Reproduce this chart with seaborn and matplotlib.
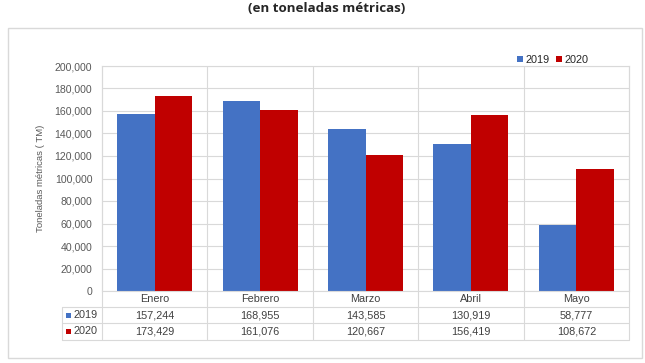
import pandas as pd
import seaborn as sns
import matplotlib.pyplot as plt
from matplotlib.lines import Line2D
from matplotlib.patches import Rectangle
from matplotlib.ticker import FuncFormatter

meses = ['Enero', 'Febrero', 'Marzo', 'Abril', 'Mayo']
anios = ['2019', '2020']
valores_2019 = [157244, 168955, 143585, 130919, 58777]
valores_2020 = [173429, 161076, 120667, 156419, 108672]

azul = '#4472C4'
rojo = '#C00000'
gris_linea = '#D9D9D9'
gris_texto = '#595959'

df = pd.DataFrame({
    'mes': meses * 2,
    'anio': [anios[0]] * len(meses) + [anios[1]] * len(meses),
    'toneladas': valores_2019 + valores_2020,
})

sns.set_style('white')
plt.rcParams['font.family'] = ['Liberation Sans', 'DejaVu Sans']

W, H = 645, 363
fig = plt.figure(figsize=(W / 100, H / 100), dpi=100)


def fx(px):
    return px / W


def fy(py):
    return 1 - py / H


ax = fig.add_axes([fx(102), fy(291), fx(629) - fx(102), fy(66) - fy(291)])

sns.barplot(data=df, x='mes', y='toneladas', hue='anio', order=meses,
            hue_order=anios, palette=[azul, rojo], width=0.71,
            saturation=1, linewidth=0, edgecolor='none', ax=ax, legend=True)

ax.set_ylim(0, 200000)
ax.set_xlim(-0.5, len(meses) - 0.5)
ax.set_yticks(range(0, 200001, 20000))
ax.yaxis.set_major_formatter(FuncFormatter(lambda v, p: f'{int(v):,}'))
ax.tick_params(axis='y', length=0, pad=7, labelsize=7.6, labelcolor=gris_texto)
ax.set_xticks([])
ax.set_xlabel('')
ax.set_ylabel('Toneladas métricas ( TM)', fontsize=6.8, color=gris_texto)
ax.yaxis.set_label_coords(-0.108, 0.5)
ax.grid(axis='y', color=gris_linea, linewidth=0.8)
ax.set_axisbelow(True)
for s in ax.spines.values():
    s.set_color(gris_linea)
    s.set_linewidth(0.8)

# leyenda superior
handles, labels = ax.get_legend_handles_labels()
ax.legend(handles, labels, loc='center right', bbox_to_anchor=(fx(593), fy(60)),
          bbox_transform=fig.transFigure, ncol=2, frameon=False, fontsize=7.8,
          handlelength=0.55, handleheight=0.55, handletextpad=0.25,
          columnspacing=0.6, borderaxespad=0)

# tabla de datos
filas_y = [291, 307, 323, 340]
x0_tabla = 62
for py in filas_y[1:]:
    fig.add_artist(Line2D([fx(x0_tabla), fx(629)], [fy(py), fy(py)],
                          color=gris_linea, linewidth=0.8))
fig.add_artist(Line2D([fx(x0_tabla), fx(x0_tabla)], [fy(307), fy(340)],
                      color=gris_linea, linewidth=0.8))
for i in range(len(meses) + 1):
    xb = i - 0.5
    xpix = ax.transData.transform((xb, 0))[0]
    fig.add_artist(Line2D([xpix / W, xpix / W], [fy(66), fy(340)],
                          color=gris_linea, linewidth=0.8))

texto_color = '#404040'
for i, mes in enumerate(meses):
    xpix = ax.transData.transform((i, 0))[0]
    fig.text(xpix / W, fy(299.5), mes, ha='center', va='center',
             fontsize=7.8, color=texto_color)
    fig.text(xpix / W, fy(315), f'{valores_2019[i]:,}', ha='center',
             va='center', fontsize=7.8, color=texto_color)
    fig.text(xpix / W, fy(331.5), f'{valores_2020[i]:,}', ha='center',
             va='center', fontsize=7.8, color=texto_color)

for anio, color, py in [(anios[0], azul, 315), (anios[1], rojo, 331.5)]:
    fig.add_artist(Rectangle((fx(66), fy(py) - 2.5 / H), 5 / W, 5 / H,
                             facecolor=color, edgecolor='none'))
    fig.text(fx(73), fy(py), anio, ha='left', va='center',
             fontsize=7.8, color=texto_color)

# marco exterior
fig.add_artist(Rectangle((fx(8), fy(358)), fx(642) - fx(8), fy(28) - fy(358),
                         facecolor='none', edgecolor=gris_linea, linewidth=1))

fig.text(fx(327), fy(9), '(en toneladas métricas)', ha='center', va='center',
         fontsize=9.6, fontweight='bold', family=['Open Sans', 'DejaVu Sans'])

fig.savefig('out.png', dpi=100)
